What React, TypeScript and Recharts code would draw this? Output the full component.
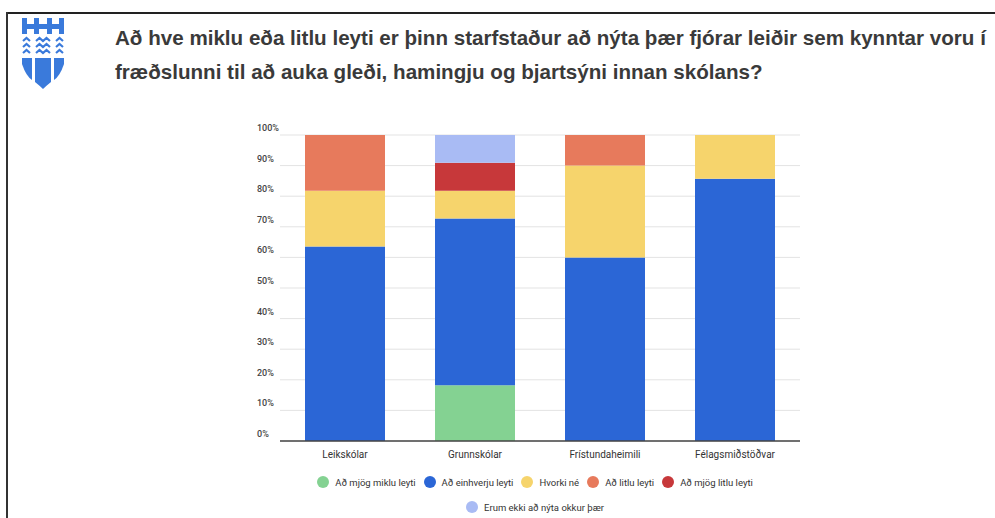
import { BarChart, Bar, XAxis, YAxis, CartesianGrid } from 'recharts'

const CATEGORIES = ['Leikskólar', 'Grunnskólar', 'Frístundaheimili', 'Félagsmiðstöðvar']

// hlutföll svara í % (lesið af myndinni)
const MJOG_MIKLU = [0, 18.2, 0, 0]
const EINHVERJU = [63.6, 54.5, 60, 85.7]
const HVORKI = [18.2, 9.1, 30, 14.3]
const LITLU = [18.2, 0, 10, 0]
const MJOG_LITLU = [0, 9.1, 0, 0]
const EKKI_NYTA = [0, 9.1, 0, 0]

const Y_TICKS = [0, 10, 20, 30, 40, 50, 60, 70, 80, 90, 100]

const TITLE_LINES = [
  'Að hve miklu eða litlu leyti er þinn starfstaður að nýta þær fjórar leiðir sem kynntar voru í',
  'fræðslunni til að auka gleði, hamingju og bjartsýni innan skólans?',
]

const SERIES = [
  { key: 'Að mjög miklu leyti', values: MJOG_MIKLU, color: '#84d292' },
  { key: 'Að einhverju leyti', values: EINHVERJU, color: '#2b66d6' },
  { key: 'Hvorki né', values: HVORKI, color: '#f6d46c' },
  { key: 'Að litlu leyti', values: LITLU, color: '#e77a5c' },
  { key: 'Að mjög litlu leyti', values: MJOG_LITLU, color: '#c7383a' },
  { key: 'Erum ekki að nýta okkur þær', values: EKKI_NYTA, color: '#a9bbf4' },
]

const chartData = CATEGORIES.map((name, i) => {
  const row: Record<string, string | number> = { name }
  SERIES.forEach((s) => {
    row[s.key] = s.values[i]
  })
  return row
})

const FONT = 'Roboto, "Liberation Sans", Arial, sans-serif'

function YTick({ y, payload }: any) {
  return (
    <text x={257} y={y - 4} fontSize={9} fill="#444" fontFamily={FONT} fontWeight={500} textAnchor="start">
      {payload.value}%
    </text>
  )
}

function Logo() {
  const c = '#3a7adb'
  return (
    <svg width={50} height={74} style={{ position: 'absolute', left: 18, top: 16 }} viewBox="0 0 50 74">
      {/* HH */}
      <rect x={4} y={2} width={5} height={16} fill={c} />
      <rect x={16} y={2} width={5} height={16} fill={c} />
      <rect x={29} y={2} width={5} height={16} fill={c} />
      <rect x={41} y={2} width={5} height={16} fill={c} />
      <rect x={4} y={8} width={42} height={5} fill={c} />
      {/* öldur */}
      {[22, 28, 34].map((yy) => (
        <g key={yy}>
          <path d={`M5 ${yy + 3} L8.5 ${yy} L12 ${yy + 3}`} stroke={c} strokeWidth={2.2} fill="none" />
          <path d={`M18 ${yy + 3} L21.5 ${yy} L25 ${yy + 3} L28.5 ${yy} L32 ${yy + 3}`} stroke={c} strokeWidth={2.2} fill="none" />
          <path d={`M38 ${yy + 3} L41.5 ${yy} L45 ${yy + 3}`} stroke={c} strokeWidth={2.2} fill="none" />
        </g>
      ))}
      {/* skjöldur */}
      <path d="M4 42 L14 42 L14 64 Q8 60 4 48 Z" fill={c} />
      <path d="M17 42 L33 42 L33 66 Q28 70 25 73 Q22 70 17 66 Z" fill={c} />
      <path d="M36 42 L46 42 L46 48 Q42 60 36 64 Z" fill={c} />
    </svg>
  )
}

export default function App() {
  return (
    <div
      style={{
        position: 'absolute',
        left: 0,
        top: 0,
        width: 995,
        height: 518,
        overflow: 'hidden',
        background: '#fff',
        fontFamily: FONT,
      }}
    >
      <div style={{ position: 'absolute', left: 6, top: 12, width: 989, height: 2, background: '#222' }} />
      <div style={{ position: 'absolute', left: 6, top: 12, width: 2, height: 506, background: '#333' }} />
      <Logo />
      <div
        style={{
          position: 'absolute',
          left: 115,
          top: 21,
          whiteSpace: 'nowrap',
          fontFamily: '"Liberation Sans", Arial, sans-serif',
          fontWeight: 700,
          fontSize: 20.6,
          lineHeight: '34px',
          color: '#3a3a3a',
        }}
      >
        {TITLE_LINES.map((t) => (
          <div key={t}>{t}</div>
        ))}
      </div>

      <div style={{ position: 'absolute', left: 0, top: 0 }}>
        <BarChart
          width={995}
          height={518}
          data={chartData}
          margin={{ top: 135, right: 195, left: 250, bottom: 47 }}
          barSize={80}
        >
          <CartesianGrid vertical={false} stroke="#e3e3e3" />
          <XAxis
            dataKey="name"
            tickLine={false}
            axisLine={{ stroke: '#444', strokeWidth: 1.5 }}
            tick={{ fontSize: 10, fill: '#333', fontFamily: FONT }}
            tickMargin={4}
            height={30}
          />
          <YAxis
            domain={[0, 100]}
            ticks={Y_TICKS}
            width={30}
            axisLine={false}
            tickLine={false}
            tick={<YTick />}
            interval={0}
          />
          {SERIES.map((s) => (
            <Bar key={s.key} dataKey={s.key} stackId="a" fill={s.color} isAnimationActive={false} />
          ))}
        </BarChart>
      </div>

      {/* skýringar */}
      <div
        style={{
          position: 'absolute',
          left: 0,
          top: 474,
          width: 1070,
          display: 'flex',
          flexWrap: 'wrap',
          justifyContent: 'center',
          rowGap: 9,
          fontSize: 9.5,
          color: '#333',
        }}
      >
        {SERIES.map((s, i) => (
          <div
            key={s.key}
            style={{
              display: 'flex',
              alignItems: 'center',
              marginRight: i < 4 ? 8 : 0,
              flexBasis: i === 5 ? '100%' : 'auto',
              justifyContent: 'center',
              height: 16,
            }}
          >
            <span
              style={{
                display: 'inline-block',
                width: 12,
                height: 12,
                borderRadius: 6,
                background: s.color,
                marginRight: 6,
              }}
            />
            {s.key}
          </div>
        ))}
      </div>
    </div>
  )
}
